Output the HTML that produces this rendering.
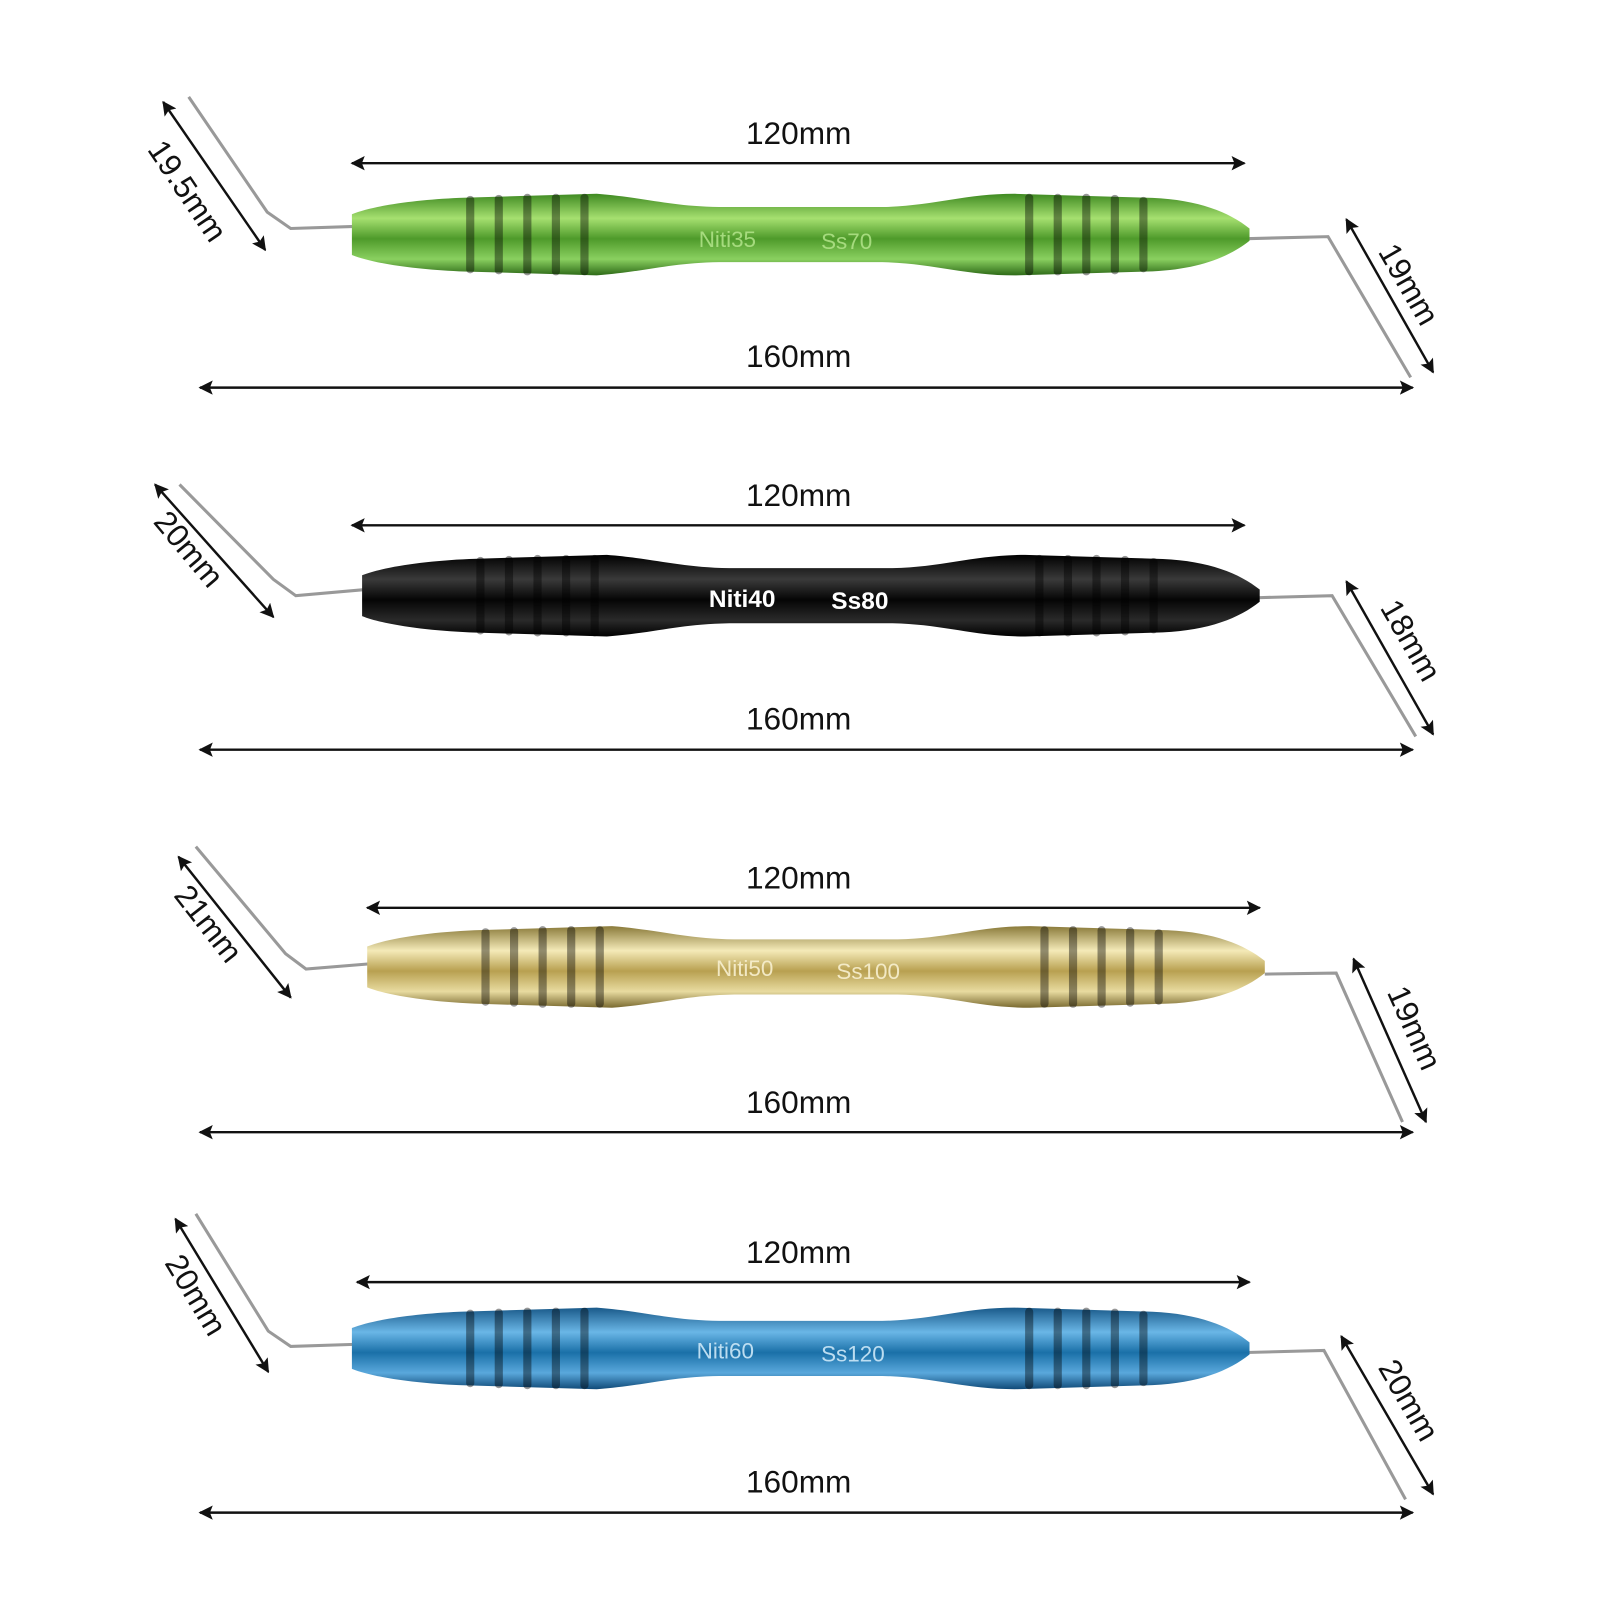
<!DOCTYPE html>
<html><head><meta charset="utf-8"><style>
html,body{margin:0;padding:0;background:#fff;width:1600px;height:1600px;overflow:hidden}
text{font-family:"Liberation Sans",Arial,sans-serif}
</style></head><body>
<svg width="1600" height="1600" viewBox="0 0 1600 1600" xmlns="http://www.w3.org/2000/svg">
<defs>
<marker id="ah" viewBox="0 0 10 10" refX="9" refY="5" markerWidth="16" markerHeight="14" orient="auto-start-reverse" markerUnits="userSpaceOnUse"><path d="M0,0 L10,5 L0,10 L2,5 Z" fill="#111"/></marker>
<linearGradient id="gG" x1="0" y1="0" x2="0" y2="1"><stop offset="0" stop-color="#3f8a22"/><stop offset=".3" stop-color="#a6e070"/><stop offset=".55" stop-color="#4e9a2a"/><stop offset=".8" stop-color="#8ad060"/><stop offset="1" stop-color="#2e6a18"/></linearGradient>
<linearGradient id="gB" x1="0" y1="0" x2="0" y2="1"><stop offset="0" stop-color="#000"/><stop offset=".3" stop-color="#3a3a3a"/><stop offset=".55" stop-color="#050505"/><stop offset=".8" stop-color="#2a2a2a"/><stop offset="1" stop-color="#000"/></linearGradient>
<linearGradient id="gY" x1="0" y1="0" x2="0" y2="1"><stop offset="0" stop-color="#8a7a3a"/><stop offset=".3" stop-color="#f4eab8"/><stop offset=".55" stop-color="#b8a050"/><stop offset=".8" stop-color="#e8dba0"/><stop offset="1" stop-color="#7a6a30"/></linearGradient>
<linearGradient id="gL" x1="0" y1="0" x2="0" y2="1"><stop offset="0" stop-color="#1a5a8a"/><stop offset=".3" stop-color="#6ab6e6"/><stop offset=".55" stop-color="#1a70a8"/><stop offset=".8" stop-color="#5aa8dc"/><stop offset="1" stop-color="#104a78"/></linearGradient>
<path id="hd" d="M0,-20 C20,-28 60,-34 105,-36 L240,-40 C290,-36 310,-28 360,-27 L520,-27 C570,-28 600,-40 650,-40 L785,-36 C830,-34 860,-22 880,-6 L880,6 C860,22 830,34 785,36 L650,40 C600,40 570,28 520,27 L360,27 C310,28 290,36 240,40 L105,36 C60,34 20,28 0,20 Z"/>
<g id="gr">
<g fill="#000" opacity=".4">
<rect x="112" y="-38" width="8" height="76" rx="4"/><rect x="140" y="-39" width="8" height="78" rx="4"/><rect x="168" y="-40" width="8" height="80" rx="4"/><rect x="196" y="-40" width="8" height="80" rx="4"/><rect x="224" y="-40" width="8" height="80" rx="4"/>
<rect x="660" y="-40" width="8" height="80" rx="4"/><rect x="688" y="-40" width="8" height="80" rx="4"/><rect x="716" y="-40" width="8" height="80" rx="4"/><rect x="744" y="-39" width="8" height="78" rx="4"/><rect x="772" y="-37" width="8" height="74" rx="4"/>
</g>
</g>
</defs>
<g transform="scale(1.02)">
<g stroke="#111" stroke-width="2.4" fill="none" marker-start="url(#ah)" marker-end="url(#ah)">
<line x1="345" y1="160" x2="1220" y2="160"/><line x1="196" y1="380" x2="1385" y2="380"/>
<line x1="160" y1="100" x2="260" y2="245"/><line x1="1320" y1="215" x2="1405" y2="365"/>
<line x1="345" y1="515" x2="1220" y2="515"/><line x1="196" y1="735" x2="1385" y2="735"/>
<line x1="152" y1="475" x2="268" y2="605"/><line x1="1320" y1="570" x2="1405" y2="720"/>
<line x1="360" y1="890" x2="1235" y2="890"/><line x1="196" y1="1110" x2="1385" y2="1110"/>
<line x1="175" y1="840" x2="285" y2="978"/><line x1="1327" y1="940" x2="1398" y2="1100"/>
<line x1="350" y1="1257" x2="1225" y2="1257"/><line x1="196" y1="1483" x2="1385" y2="1483"/>
<line x1="172" y1="1195" x2="263" y2="1345"/><line x1="1315" y1="1310" x2="1405" y2="1465"/>
</g>

<g font-size="31" fill="#111" text-anchor="middle">
<text x="783" y="141">120mm</text><text x="783" y="360">160mm</text>
<text x="783" y="496">120mm</text><text x="783" y="715">160mm</text>
<text x="783" y="871">120mm</text><text x="783" y="1091">160mm</text>
<text x="783" y="1238">120mm</text><text x="783" y="1463">160mm</text>
<text transform="translate(175,193) rotate(56)">19.5mm</text>
<text transform="translate(1372,284) rotate(60)">19mm</text>
<text transform="translate(177,545) rotate(50)">20mm</text>
<text transform="translate(1374,633) rotate(60)">18mm</text>
<text transform="translate(196,912) rotate(52)">21mm</text>
<text transform="translate(1377,1012) rotate(66)">19mm</text>
<text transform="translate(183,1275) rotate(59)">20mm</text>
<text transform="translate(1372,1378) rotate(60)">20mm</text>
</g>

<g fill="none" stroke="#999" stroke-width="3">
<polyline points="348,222 285,224 262,208 185,95"/><polyline points="1222,234 1302,232 1383,370"/>
<polyline points="358,578 290,584 268,568 176,475"/><polyline points="1232,586 1306,584 1388,722"/>
<polyline points="362,945 300,950 280,935 192,830"/><polyline points="1240,955 1310,954 1375,1100"/>
<polyline points="347,1318 285,1320 263,1305 192,1190"/><polyline points="1222,1326 1298,1324 1378,1470"/>
</g>

<g transform="translate(345,230)"><use href="#hd" fill="url(#gG)"/><use href="#gr"/>
<text x="340" y="12" font-size="22" fill="#b8e890" opacity=".8">Niti35</text><text x="460" y="14" font-size="22" fill="#b8e890" opacity=".8">Ss70</text></g>
<g transform="translate(355,584)"><use href="#hd" fill="url(#gB)"/><use href="#gr"/>
<text x="340" y="11" font-size="24" font-weight="bold" fill="#fff">Niti40</text><text x="460" y="13" font-size="24" font-weight="bold" fill="#fff">Ss80</text></g>
<g transform="translate(360,948)"><use href="#hd" fill="url(#gY)"/><use href="#gr"/>
<text x="342" y="9" font-size="22" fill="#f8f0d0" opacity=".9">Niti50</text><text x="460" y="12" font-size="22" fill="#f8f0d0" opacity=".9">Ss100</text></g>
<g transform="translate(345,1322)"><use href="#hd" fill="url(#gL)"/><use href="#gr"/>
<text x="338" y="10" font-size="22" fill="#cde8f8" opacity=".9">Niti60</text><text x="460" y="13" font-size="22" fill="#cde8f8" opacity=".9">Ss120</text></g>
</g>
</svg>
</body></html>
